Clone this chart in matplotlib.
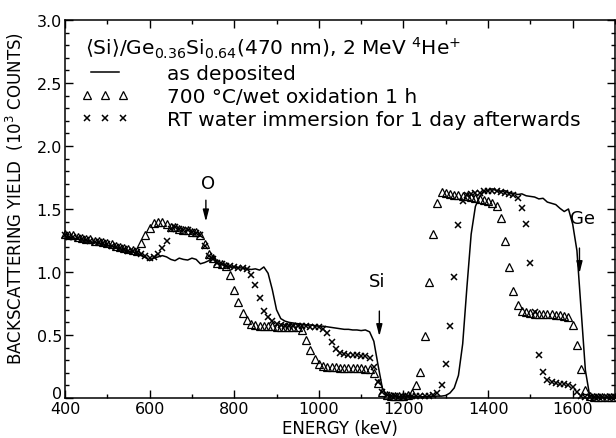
import matplotlib
matplotlib.use('Agg')
import matplotlib.pyplot as plt
from matplotlib.lines import Line2D
from matplotlib.legend_handler import HandlerLine2D
from matplotlib.transforms import ScaledTranslation
from matplotlib.ticker import FixedLocator, FixedFormatter, MultipleLocator

plt.rcParams['font.family'] = ['DejaVu Sans']
plt.rcParams['mathtext.fontset'] = 'dejavusans'

# ---------------- data ----------------
ENERGY_KEV = [
    400, 410, 420, 430, 440, 450, 460, 470, 480, 490,
    500, 510, 520, 530, 540, 550, 560, 570, 580, 590,
    600, 610, 620, 630, 640, 650, 660, 670, 680, 690,
    700, 710, 720, 730, 740, 750, 760, 770, 780, 790,
    800, 810, 820, 830, 840, 850, 860, 870, 880, 890,
    900, 910, 920, 930, 940, 950, 960, 970, 980, 990,
    1000, 1010, 1020, 1030, 1040, 1050, 1060, 1070, 1080, 1090,
    1100, 1110, 1120, 1130, 1140, 1150, 1160, 1170, 1180, 1190,
    1200, 1210, 1220, 1230, 1240, 1250, 1260, 1270, 1280, 1290,
    1300, 1310, 1320, 1330, 1340, 1350, 1360, 1370, 1380, 1390,
    1400, 1410, 1420, 1430, 1440, 1450, 1460, 1470, 1480, 1490,
    1500, 1510, 1520, 1530, 1540, 1550, 1560, 1570, 1580, 1590,
    1600, 1610, 1620, 1630, 1640, 1650, 1660, 1670, 1680, 1690,
    1700,
]

# as deposited (solid line), 10^3 counts
AS_DEPOSITED = [
    1.28, 1.275, 1.27, 1.26, 1.255, 1.25, 1.24, 1.235, 1.23, 1.22,
    1.21, 1.205, 1.195, 1.185, 1.175, 1.165, 1.16, 1.145, 1.13, 1.115,
    1.09, 1.11, 1.12, 1.13, 1.12, 1.10, 1.09, 1.11, 1.10, 1.095,
    1.11, 1.10, 1.065, 1.075, 1.09, 1.125, 1.07, 1.06, 1.05, 1.04,
    1.04, 1.035, 1.03, 1.025, 1.02, 1.025, 1.015, 1.04, 0.99, 0.86,
    0.70, 0.63, 0.61, 0.60, 0.595, 0.59, 0.585, 0.58, 0.58, 0.575,
    0.57, 0.57, 0.565, 0.56, 0.555, 0.55, 0.545, 0.545, 0.54, 0.54,
    0.535, 0.54, 0.525, 0.45, 0.26, 0.08, 0.025, 0.015, 0.015, 0.01,
    0.012, 0.01, 0.01, 0.012, 0.01, 0.01, 0.012, 0.012, 0.015, 0.015,
    0.02, 0.04, 0.08, 0.18, 0.43, 0.88, 1.30, 1.52, 1.60, 1.635,
    1.65, 1.66, 1.645, 1.64, 1.645, 1.63, 1.625, 1.615, 1.62, 1.605,
    1.60, 1.595, 1.58, 1.585, 1.555, 1.545, 1.535, 1.505, 1.48, 1.50,
    1.38, 1.17, 0.70, 0.22, 0.02, 0.01, 0.005, 0.005, 0.005, 0.005,
    0.005,
]

# 700 C / wet oxidation 1 h (triangles)
OXIDIZED_700C = [
    1.30, 1.29, 1.29, 1.28, 1.27, 1.265, 1.26, 1.25, 1.245, 1.24,
    1.23, 1.22, 1.21, 1.20, 1.19, 1.18, 1.175, 1.17, 1.23, 1.29,
    1.35, 1.39, 1.40, 1.395, 1.38, 1.36, 1.355, 1.345, 1.335, 1.33,
    1.32, 1.315, 1.29, 1.22, 1.14, 1.11, 1.07, 1.06, 1.05, 0.98,
    0.86, 0.76, 0.675, 0.62, 0.59, 0.58, 0.575, 0.57, 0.57, 0.57,
    0.565, 0.565, 0.56, 0.56, 0.56, 0.56, 0.54, 0.46, 0.38, 0.31,
    0.27, 0.255, 0.25, 0.245, 0.245, 0.24, 0.24, 0.24, 0.238, 0.235,
    0.235, 0.232, 0.23, 0.20, 0.12, 0.05, 0.02, 0.015, 0.012, 0.012,
    0.015, 0.02, 0.04, 0.10, 0.21, 0.49, 0.92, 1.30, 1.55, 1.635,
    1.625, 1.62, 1.615, 1.61, 1.605, 1.60, 1.595, 1.585, 1.58, 1.575,
    1.56, 1.55, 1.52, 1.43, 1.25, 1.04, 0.85, 0.74, 0.69, 0.68,
    0.675, 0.67, 0.67, 0.67, 0.665, 0.665, 0.66, 0.655, 0.65, 0.64,
    0.58, 0.42, 0.23, 0.06, 0.012, 0.01, 0.01, 0.01, 0.01, 0.01,
    0.01,
]

# RT water immersion for 1 day afterwards (crosses)
WATER_RT = [
    1.29, 1.28, 1.275, 1.27, 1.26, 1.255, 1.25, 1.24, 1.235, 1.23,
    1.22, 1.21, 1.20, 1.19, 1.18, 1.17, 1.165, 1.155, 1.14, 1.13,
    1.11, 1.12, 1.14, 1.19, 1.25, 1.34, 1.355, 1.345, 1.335, 1.33,
    1.32, 1.31, 1.29, 1.21, 1.13, 1.10, 1.07, 1.06, 1.05, 1.045,
    1.04, 1.035, 1.03, 1.02, 0.98, 0.90, 0.79, 0.69, 0.645, 0.61,
    0.59, 0.58, 0.575, 0.575, 0.57, 0.57, 0.57, 0.57, 0.565, 0.565,
    0.56, 0.55, 0.515, 0.445, 0.39, 0.357, 0.35, 0.345, 0.34, 0.34,
    0.335, 0.33, 0.32, 0.25, 0.13, 0.05, 0.02, 0.015, 0.012, 0.01,
    0.01, 0.012, 0.012, 0.015, 0.015, 0.012, 0.015, 0.02, 0.04, 0.10,
    0.27, 0.57, 0.96, 1.37, 1.56, 1.61, 1.62, 1.625, 1.63, 1.64,
    1.645, 1.64, 1.64, 1.635, 1.63, 1.62, 1.61, 1.59, 1.51, 1.38,
    1.07, 0.68, 0.34, 0.21, 0.145, 0.125, 0.12, 0.115, 0.11, 0.105,
    0.09, 0.05, 0.015, 0.01, 0.01, 0.01, 0.01, 0.01, 0.01, 0.01,
    0.01,
]

X_TICKS = [400, 600, 800, 1000, 1200, 1400, 1600]
X_TICK_LABELS = ['400', '600', '800', '1000', '1200', '1400', '1600']
Y_TICKS = [0, 0.5, 1.0, 1.5, 2.0, 2.5, 3.0]
Y_TICK_LABELS = ['0', '0.5', '1.0', '1.5', '2.0', '2.5', '3.0']

LEGEND_TITLE = r'$\langle$Si$\rangle$/Ge$_{0.36}$Si$_{0.64}$(470 nm), 2 MeV $^{4}$He$^{+}$'
LEGEND_LABELS = ['as deposited', '700 \u00b0C/wet oxidation 1 h',
                 'RT water immersion for 1 day afterwards']

# ---------------- figure ----------------
fig = plt.figure(figsize=(6.16, 4.39), dpi=100)
ax = fig.add_axes([65 / 616, 40 / 439, 550 / 616, 378 / 439])

line_kw = dict(color='black', lw=1.1)
tri_kw = dict(ls='none', marker='^', ms=5.5, mfc='none', mec='black', mew=0.9)
crs_kw = dict(ls='none', marker='x', ms=4.2, mec='black', mew=1.1)

ax.plot(ENERGY_KEV, AS_DEPOSITED, **line_kw)
ax.plot(ENERGY_KEV, OXIDIZED_700C, clip_on=False, **tri_kw)
ax.plot(ENERGY_KEV, WATER_RT, clip_on=False, **crs_kw)

ax.set_xlim(400, 1700)
ax.set_ylim(0, 3.0)

ax.xaxis.set_major_locator(FixedLocator(X_TICKS))
ax.xaxis.set_major_formatter(FixedFormatter(X_TICK_LABELS))
ax.xaxis.set_minor_locator(MultipleLocator(100))
ax.yaxis.set_major_locator(FixedLocator(Y_TICKS))
ax.yaxis.set_major_formatter(FixedFormatter(Y_TICK_LABELS))
ax.yaxis.set_minor_locator(MultipleLocator(0.1))

ax.tick_params(which='both', direction='in', top=True, right=True, width=1.0)
ax.tick_params(which='major', length=6, labelsize=11.5, pad=2)
ax.tick_params(which='minor', length=3)
for s in ax.spines.values():
    s.set_linewidth(1.1)

ax.set_xlabel('ENERGY (keV)', fontsize=12, labelpad=2)
ax.set_ylabel(r'BACKSCATTERING YIELD  (10$^{3}$ COUNTS)', fontsize=12)
ax.yaxis.set_label_coords(-0.07, 0.53)

# nudge the "0" y tick label up so it does not sit on top of "400"
fig.canvas.draw()
zero_lbl = ax.yaxis.get_majorticklabels()[0]
zero_lbl.set_transform(zero_lbl.get_transform() + ScaledTranslation(0, 4 / 72, fig.dpi_scale_trans))

handles = [Line2D([], [], **line_kw), Line2D([], [], **tri_kw), Line2D([], [], **crs_kw)]
leg = ax.legend(handles, LEGEND_LABELS, title=LEGEND_TITLE, loc='upper left',
                bbox_to_anchor=(0.037, 0.962), frameon=False, numpoints=3,
                fontsize=14.5, title_fontsize=14.5, alignment='left',
                handlelength=1.95, handletextpad=2.1, labelspacing=0.2,
                borderpad=0, borderaxespad=0,
                handler_map={handles[1]: HandlerLine2D(marker_pad=0.1),
                             handles[2]: HandlerLine2D(marker_pad=0.1)})

arrow_kw = dict(arrowstyle='-|>,head_length=0.7,head_width=0.18', lw=1.0,
                color='black', shrinkA=0, shrinkB=0)
ax.annotate('', xy=(733, 1.40), xytext=(733, 1.57), arrowprops=arrow_kw)
ax.text(738, 1.71, 'O', fontsize=13, ha='center', va='center')
ax.annotate('', xy=(1143, 0.49), xytext=(1143, 0.69), arrowprops=arrow_kw)
ax.text(1137, 0.93, 'Si', fontsize=13, ha='center', va='center')
ax.annotate('', xy=(1616, 0.99), xytext=(1616, 1.19), arrowprops=arrow_kw)
ax.text(1624, 1.43, 'Ge', fontsize=13, ha='center', va='center')

fig.savefig('out.png', dpi=100)
